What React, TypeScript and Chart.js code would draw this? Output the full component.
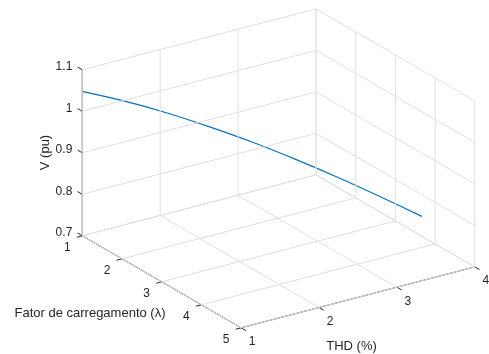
import React, { useEffect, useRef } from 'react';
import { Chart, registerables } from 'chart.js';

Chart.register(...registerables);

// ---- Data ----
const LAMBDA = [1, 1.5, 2, 2.5, 3, 3.5, 4, 4.5, 5];
const THD = [1, 1.29, 1.58, 1.87, 2.16, 2.45, 2.74, 3.03, 3.32];
const V = [1.048, 1.038, 1.023, 1.003, 0.98, 0.953, 0.923, 0.89, 0.855];

const V_TICKS = [0.7, 0.8, 0.9, 1, 1.1];
const V_TICK_LABELS = ['0.7', '0.8', '0.9', '1', '1.1'];
const LAMBDA_TICKS = [1, 2, 3, 4, 5];
const LAMBDA_TICK_LABELS = ['1', '2', '3', '4', '5'];
const THD_TICKS = [1, 2, 3, 4];
const THD_TICK_LABELS = ['1', '2', '3', '4'];

const V_TITLE = 'V (pu)';
const LAMBDA_TITLE = 'Fator de carregamento (\u03BB)';
const THD_TITLE = 'THD (%)';

// ---- Layout / projection (3D box view) ----
const W = 489;
const H = 354;
const ORIGIN = { x: 82.3, y: 235.8 };
const AX_L = { x: 39.7, y: 23.0 };
const AX_T = { x: 77.9, y: -20.3 };
const AX_V = 415;

const GRID = '#dfdfdf';
const AXIS = '#262626';
const LINE = '#0072BD';
const TEXT = '#262626';
const FONT = '"Liberation Sans", Arial, Helvetica, sans-serif';

const Lmin = LAMBDA_TICKS[0];
const Lmax = LAMBDA_TICKS[LAMBDA_TICKS.length - 1];
const Tmin = THD_TICKS[0];
const Tmax = THD_TICKS[THD_TICKS.length - 1];
const Vmin = V_TICKS[0];
const Vmax = V_TICKS[V_TICKS.length - 1];

function proj(l: number, t: number, v: number) {
  return {
    x: ORIGIN.x + (l - Lmin) * AX_L.x + (t - Tmin) * AX_T.x,
    y: ORIGIN.y + (l - Lmin) * AX_L.y + (t - Tmin) * AX_T.y - (v - Vmin) * AX_V,
  };
}

type P3 = [number, number, number];

function seg(a: P3, b: P3, color: string, width: number) {
  return {
    data: [proj(a[0], a[1], a[2]), proj(b[0], b[1], b[2])],
    showLine: true,
    borderColor: color,
    borderWidth: width,
    pointRadius: 0,
    fill: false,
  };
}

function buildDatasets() {
  const ds: any[] = [];
  // back wall lambda = min
  V_TICKS.forEach((v) => ds.push(seg([Lmin, Tmin, v], [Lmin, Tmax, v], GRID, 1)));
  THD_TICKS.forEach((t) => ds.push(seg([Lmin, t, Vmin], [Lmin, t, Vmax], GRID, 1)));
  // back wall THD = max
  V_TICKS.forEach((v) => ds.push(seg([Lmin, Tmax, v], [Lmax, Tmax, v], GRID, 1)));
  LAMBDA_TICKS.forEach((l) => ds.push(seg([l, Tmax, Vmin], [l, Tmax, Vmax], GRID, 1)));
  // floor
  LAMBDA_TICKS.forEach((l) => ds.push(seg([l, Tmin, Vmin], [l, Tmax, Vmin], GRID, 1)));
  THD_TICKS.forEach((t) => ds.push(seg([Lmin, t, Vmin], [Lmax, t, Vmin], GRID, 1)));
  // axes
  ds.push(seg([Lmin, Tmin, Vmin], [Lmin, Tmin, Vmax], AXIS, 1));
  ds.push(seg([Lmin, Tmin, Vmin], [Lmax, Tmin, Vmin], AXIS, 1));
  ds.push(seg([Lmax, Tmin, Vmin], [Lmax, Tmax, Vmin], AXIS, 1));
  // ticks (outward)
  V_TICKS.forEach((v) => ds.push(seg([Lmin, Tmin, v], [Lmin - 0.12, Tmin, v], AXIS, 1)));
  LAMBDA_TICKS.forEach((l) => ds.push(seg([l, Tmin, Vmin], [l, Tmin - 0.07, Vmin], AXIS, 1)));
  THD_TICKS.forEach((t) => ds.push(seg([Lmax, t, Vmin], [Lmax + 0.12, t, Vmin], AXIS, 1)));
  // data curve
  ds.push({
    data: LAMBDA.map((l, i) => proj(l, THD[i], V[i])),
    showLine: true,
    borderColor: LINE,
    borderWidth: 1.2,
    pointRadius: 0,
    tension: 0.3,
    fill: false,
  });
  return ds;
}

const labelPlugin = {
  id: 'box3dLabels',
  afterDatasetsDraw(chart: any) {
    const { ctx } = chart;
    const xs = chart.scales.x;
    const ys = chart.scales.y;
    const px = (p: { x: number; y: number }) => ({ x: xs.getPixelForValue(p.x), y: ys.getPixelForValue(p.y) });
    ctx.save();
    ctx.fillStyle = TEXT;
    ctx.font = `12px ${FONT}`;
    ctx.textBaseline = 'middle';
    // V tick labels
    ctx.textAlign = 'right';
    V_TICKS.forEach((v, i) => {
      const p = px(proj(Lmin, Tmin, v));
      ctx.fillText(V_TICK_LABELS[i], p.x - 10, p.y - 3);
    });
    ctx.textAlign = 'center';
    LAMBDA_TICKS.forEach((l, i) => {
      const p = px(proj(l, Tmin, Vmin));
      ctx.fillText(LAMBDA_TICK_LABELS[i], p.x - 15, p.y + 12);
    });
    THD_TICKS.forEach((t, i) => {
      const p = px(proj(Lmax, t, Vmin));
      ctx.fillText(THD_TICK_LABELS[i], p.x + 11, p.y + 14);
    });
    // titles
    ctx.font = `13px ${FONT}`;
    ctx.fillText(LAMBDA_TITLE, 90, 313);
    ctx.fillText(THD_TITLE, 351.5, 346);
    ctx.save();
    ctx.translate(45.5, 152.5);
    ctx.rotate(-Math.PI / 2);
    ctx.fillText(V_TITLE, 0, 0);
    ctx.restore();
    ctx.restore();
  },
};

export default function App() {
  const ref = useRef<HTMLCanvasElement | null>(null);
  useEffect(() => {
    if (!ref.current) return;
    const chart = new Chart(ref.current, {
      type: 'scatter',
      data: { datasets: buildDatasets() },
      options: {
        animation: false,
        responsive: false,
        events: [],
        layout: { padding: 0 },
        plugins: { legend: { display: false }, tooltip: { enabled: false } },
        scales: {
          x: { type: 'linear', min: 0, max: W, display: false },
          y: { type: 'linear', min: 0, max: H, reverse: true, display: false },
        },
      },
      plugins: [labelPlugin],
    } as any);
    return () => chart.destroy();
  }, []);
  return (
    <div style={{ position: 'fixed', left: 0, top: 0, width: W, height: H, background: '#fff' }}>
      <canvas ref={ref} width={W} height={H} style={{ display: 'block' }} />
    </div>
  );
}
